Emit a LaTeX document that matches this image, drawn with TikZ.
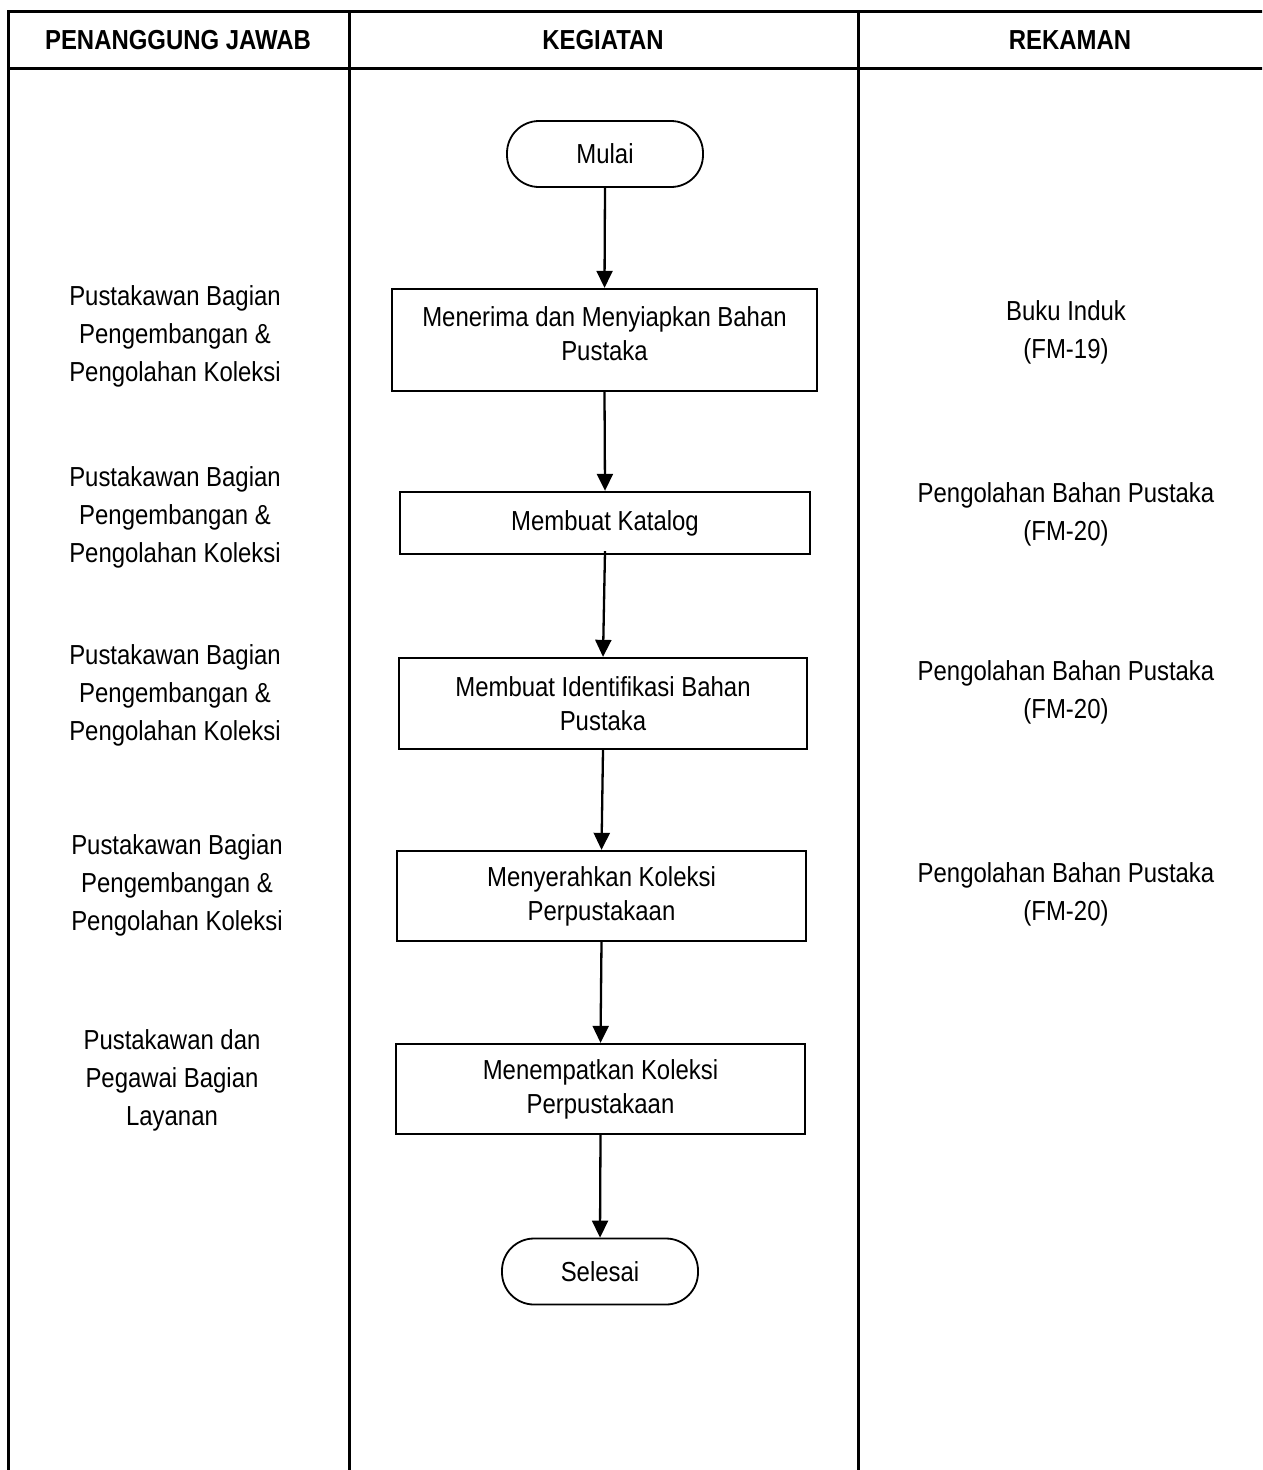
\documentclass[tikz,border=0pt]{standalone}
\usepackage{fontspec}
\setmainfont{Liberation Sans}[FakeStretch=0.87]
\usetikzlibrary{arrows.meta}
\tikzset{
  txt/.style={font=\fontsize{27.5}{38}\selectfont, align=center, inner sep=0pt},
  hdr/.style={font=\fontsize{27.5}{30}\selectfont\bfseries, inner sep=0pt},
  proc/.style={draw, line width=2.3pt, align=center, inner sep=0pt,
    font=\fontsize{27.5}{34}\selectfont},
  term/.style={draw, line width=1.8pt, rounded corners=32pt, inner sep=0pt,
    minimum width=196pt, minimum height=66pt, font=\fontsize{27.5}{34}\selectfont},
  arr/.style={line width=2.3pt, -{Triangle[length=17pt,width=16pt]}},
  grid/.style={line width=3pt}
}
\begin{document}
\begin{tikzpicture}[x=1pt,y=-1pt]
\useasboundingbox (0,0) rectangle (1262,1470);
\clip (0,0) rectangle (1262,1470);
% table
\draw[grid] (8,1480) -- (8,11) -- (1275,11) -- (1275,1480);
\draw[grid] (8,68) -- (1275,68);
\draw[grid] (349,11) -- (349,1480);
\draw[grid] (858,11) -- (858,1480);
% headers
\node[hdr] (h1) at (178,40) {PENANGGUNG JAWAB};
\node[hdr] (h2) at (603,40) {KEGIATAN};
\node[hdr] (h3) at (1070,40) {REKAMAN};
% flow
\node[term] (start) at (605,154) {Mulai};
\node[proc, minimum width=425pt, minimum height=102pt] (b1) at (604.5,340) {};
\node[txt] (b1t) at (604.5,334) {Menerima dan Menyiapkan Bahan\\[-4pt]Pustaka};
\node[proc, minimum width=410pt, minimum height=62pt] (b2) at (605,523) {Membuat Katalog};
\node[proc, minimum width=408pt, minimum height=91pt] (b3) at (603,703.5) {Membuat Identifikasi Bahan\\Pustaka};
\node[proc, minimum width=409pt, minimum height=90pt] (b4) at (601.5,896) {Menyerahkan Koleksi\\Perpustakaan};
\node[proc, minimum width=409pt, minimum height=90pt] (b5) at (600.5,1089) {Menempatkan Koleksi\\Perpustakaan};
\node[term] (stop) at (600,1271.5) {Selesai};
\draw[arr] (start.south) -- (b1.north);
\draw[arr] (b1.south) -- (b2.north);
\draw[arr] ([yshift=4pt]b2.south) -- (b3.north);
\draw[arr] (b3.south) -- (b4.north);
\draw[arr] (b4.south) -- (b5.north);
\draw[arr] (b5.south) -- (stop.north);
% responsible
\node[txt] (p1) at (175,336) {Pustakawan Bagian\\Pengembangan \&\\Pengolahan Koleksi};
\node[txt] (p2) at (175,517) {Pustakawan Bagian\\Pengembangan \&\\Pengolahan Koleksi};
\node[txt] (p3) at (175,695) {Pustakawan Bagian\\Pengembangan \&\\Pengolahan Koleksi};
\node[txt] (p4) at (177,885) {Pustakawan Bagian\\Pengembangan \&\\Pengolahan Koleksi};
\node[txt] (p5) at (172,1080) {Pustakawan dan\\Pegawai Bagian\\Layanan};
% records
\node[txt] (r1) at (1066,332) {Buku Induk\\(FM-19)};
\node[txt] (r2) at (1066,514) {Pengolahan Bahan Pustaka\\(FM-20)};
\node[txt] (r3) at (1066,692) {Pengolahan Bahan Pustaka\\(FM-20)};
\node[txt] (r4) at (1066,894) {Pengolahan Bahan Pustaka\\(FM-20)};
\end{tikzpicture}
\end{document}
